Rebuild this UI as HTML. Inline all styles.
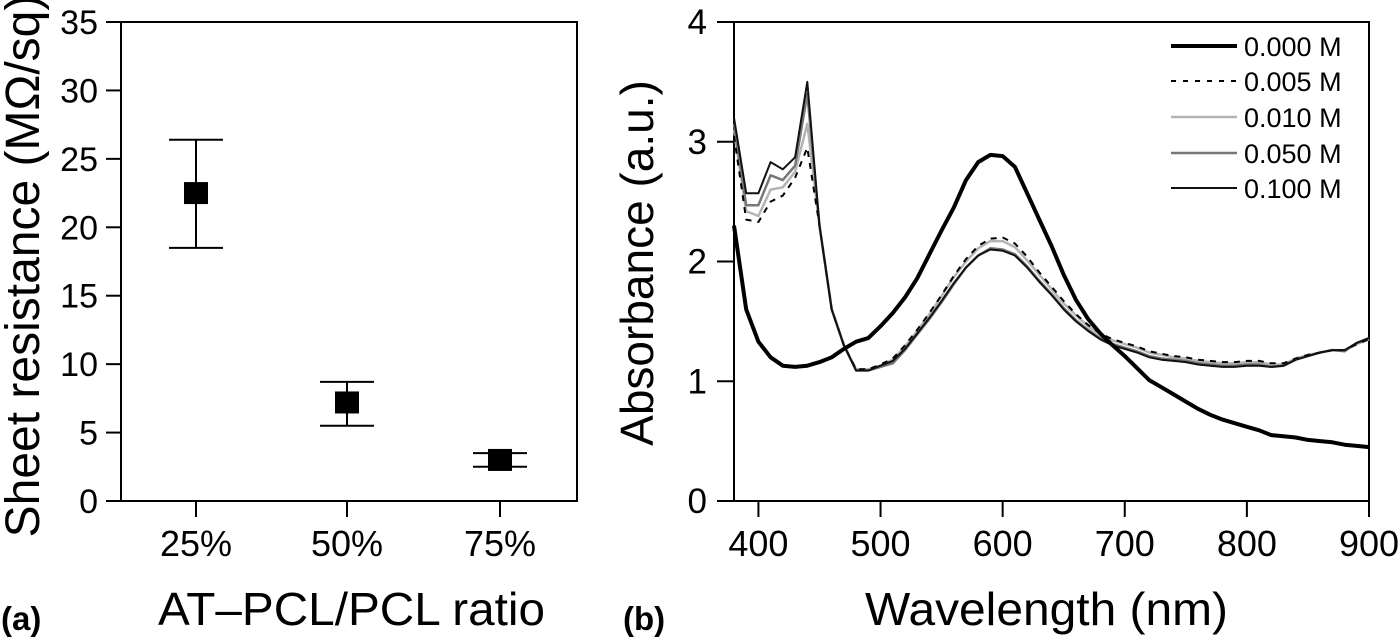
<!DOCTYPE html>
<html><head><meta charset="utf-8"><style>
html,body{margin:0;padding:0;background:#fff;}
svg{display:block;font-family:"Liberation Sans",Arial,sans-serif;}
</style></head><body>
<svg id="fig" width="1400" height="639" viewBox="0 0 1400 639">
<g id="pa"></g>
<g id="pb"></g>
</svg>
<script>
// Panel (a) data
const catLabels = ["25%","50%","75%"];
const resMean = [22.5, 7.2, 3.0];
const resLow = [18.5, 5.5, 2.5];
const resHigh = [26.4, 8.7, 3.5];
const aTicks = [0,5,10,15,20,25,30,35];

// Panel (b) data
const wl = [380,390,400,410,420,430,440,450,460,470,480,490,500,510,520,530,540,550,560,570,580,590,600,610,620,630,640,650,660,670,680,690,700,710,720,730,740,750,760,770,780,790,800,810,820,830,840,850,860,870,880,890,900];
const s000 = [2.3,1.6,1.33,1.2,1.13,1.12,1.13,1.16,1.2,1.27,1.33,1.36,1.46,1.57,1.7,1.86,2.06,2.26,2.45,2.68,2.83,2.89,2.88,2.79,2.57,2.35,2.13,1.89,1.68,1.52,1.40,1.30,1.21,1.11,1.01,0.95,0.89,0.83,0.77,0.72,0.68,0.65,0.62,0.59,0.55,0.54,0.53,0.51,0.50,0.49,0.47,0.46,0.45];
const s005 = [3.05,2.35,2.33,2.5,2.55,2.7,2.95,2.3,1.6,1.3,1.1,1.1,1.14,1.19,1.3,1.43,1.57,1.72,1.88,2.02,2.13,2.19,2.2,2.15,2.04,1.91,1.79,1.67,1.56,1.47,1.40,1.35,1.32,1.29,1.25,1.23,1.21,1.2,1.18,1.17,1.16,1.16,1.17,1.17,1.15,1.15,1.19,1.22,1.24,1.26,1.26,1.31,1.35];
const s010 = [3.1,2.42,2.38,2.6,2.62,2.75,3.15,2.3,1.6,1.3,1.1,1.1,1.13,1.18,1.29,1.42,1.56,1.71,1.87,2.0,2.11,2.17,2.17,2.12,2.01,1.89,1.77,1.65,1.55,1.46,1.39,1.34,1.31,1.28,1.24,1.22,1.2,1.19,1.17,1.16,1.15,1.15,1.16,1.16,1.14,1.14,1.19,1.22,1.24,1.26,1.26,1.31,1.35];
const s050 = [3.15,2.47,2.47,2.72,2.68,2.8,3.4,2.3,1.6,1.3,1.09,1.09,1.12,1.15,1.26,1.39,1.52,1.66,1.81,1.95,2.05,2.11,2.1,2.06,1.96,1.84,1.73,1.61,1.51,1.43,1.36,1.31,1.28,1.25,1.21,1.19,1.18,1.17,1.15,1.14,1.13,1.13,1.14,1.14,1.12,1.13,1.18,1.21,1.24,1.26,1.25,1.32,1.36];
const s100 = [3.2,2.57,2.57,2.83,2.77,2.87,3.5,2.3,1.6,1.3,1.09,1.09,1.13,1.17,1.27,1.4,1.53,1.67,1.82,1.95,2.05,2.1,2.09,2.05,1.95,1.83,1.72,1.6,1.5,1.42,1.35,1.30,1.27,1.24,1.2,1.18,1.17,1.16,1.14,1.13,1.12,1.12,1.13,1.13,1.12,1.13,1.18,1.21,1.24,1.26,1.26,1.32,1.36];
const seriesNames = ["0.000 M","0.005 M","0.010 M","0.050 M","0.100 M"];
const bTicksX = [400,500,600,700,800,900];
const bTicksY = [0,1,2,3,4];

const NS="http://www.w3.org/2000/svg";
function mk(parent,tag,attrs){const e=document.createElementNS(NS,tag);for(const k in attrs)e.setAttribute(k,attrs[k]);parent.appendChild(e);return e;}

// ---- Panel A
const pa=document.getElementById('pa');
const aL=121,aR=577,aT=22,aB=501;
const ay=v=>aB-(v/35)*(aB-aT);
const ax=i=>[196,347,500][i];
let e=mk(pa,'rect',{x:aL,y:aT,width:aR-aL,height:aB-aT,fill:'none',stroke:'#000','stroke-width':2});


e=mk(pa,'line',{x1:106,y1:aB,x2:aR,y2:aB,stroke:'#000','stroke-width':2});


aTicks.forEach(t=>{
 const l=mk(pa,'line',{x1:106,x2:aL,y1:ay(t),y2:ay(t),stroke:'#000','stroke-width':2});
 
 
 const tx=mk(pa,'text',{x:98,y:ay(t)+12,'text-anchor':'end','font-size':34});
 tx.textContent=t;
 
 
});
catLabels.forEach((c,i)=>{
 const l=mk(pa,'line',{x1:ax(i),x2:ax(i),y1:aB,y2:517,stroke:'#000','stroke-width':2});
 
 
 const tx=mk(pa,'text',{x:ax(i),y:556,'text-anchor':'middle','font-size':36});
 tx.textContent=c;
 
 
 const g=mk(pa,'g',{});
 
 
 mk(g,'line',{x1:ax(i),x2:ax(i),y1:ay(resLow[i]),y2:ay(resHigh[i]),stroke:'#000','stroke-width':2});
 mk(g,'line',{x1:ax(i)-27,x2:ax(i)+27,y1:ay(resLow[i]),y2:ay(resLow[i]),stroke:'#000','stroke-width':2});
 mk(g,'line',{x1:ax(i)-27,x2:ax(i)+27,y1:ay(resHigh[i]),y2:ay(resHigh[i]),stroke:'#000','stroke-width':2});
 mk(g,'rect',{x:ax(i)-12,y:ay(resMean[i])-11,width:24,height:22,fill:'#000'});
});
e=mk(pa,'text',{x:0,y:0,transform:'translate(39,266) rotate(-90)','text-anchor':'middle','font-size':48});
e.textContent='Sheet resistance (MΩ/sq)';


e=mk(pa,'text',{x:158,y:625,'font-size':46,textLength:387,lengthAdjust:'spacingAndGlyphs'});
e.textContent='AT–PCL/PCL ratio';


e=mk(pa,'text',{x:1,y:630,'font-size':33,'font-weight':'bold'});
e.textContent='(a)';



// ---- Panel B
const pb=document.getElementById('pb');
const bL=734,bR=1369,bT=22,bB=501;
const bx=w=>bL+(w-380)/(900-380)*(bR-bL);
const by=v=>bB-(v/4)*(bB-bT);
e=mk(pb,'rect',{x:bL,y:bT,width:bR-bL,height:bB-bT,fill:'none',stroke:'#000','stroke-width':2});


e=mk(pb,'line',{x1:717,y1:bB,x2:bR,y2:bB,stroke:'#000','stroke-width':2});


bTicksY.forEach(t=>{
 const l=mk(pb,'line',{x1:717,x2:bL,y1:by(t),y2:by(t),stroke:'#000','stroke-width':2});
 
 
 const tx=mk(pb,'text',{x:707,y:by(t)+12,'text-anchor':'end','font-size':35});
 tx.textContent=t;
 
 
});
bTicksX.forEach(t=>{
 const l=mk(pb,'line',{x1:bx(t),x2:bx(t),y1:bB,y2:517,stroke:'#000','stroke-width':2});
 
 
 const tx=mk(pb,'text',{x:bx(t),y:556,'text-anchor':'middle','font-size':36});
 tx.textContent=t;
 
 
});
const sData=[s000,s005,s010,s050,s100];
const sStyle=[{c:'#000',w:4,d:''},{c:'#000',w:2,d:'6,6'},{c:'#b4b4b4',w:2.5,d:''},{c:'#777',w:2.5,d:''},{c:'#111',w:2,d:''}];
const drawOrder=[2,3,1,4,0];
drawOrder.forEach(k=>{
 const pts=wl.map((w,i)=>bx(w).toFixed(1)+','+by(sData[k][i]).toFixed(1)).join(' ');
 const p=mk(pb,'polyline',{points:pts,fill:'none',stroke:sStyle[k].c,'stroke-width':sStyle[k].w,'stroke-linejoin':'round'});
 if(sStyle[k].d)p.setAttribute('stroke-dasharray',sStyle[k].d);
 
 
});
const legY=[46,81,117,153,188];
seriesNames.forEach((n,k)=>{
 const g=mk(pb,'g',{});
 
 
 const l=mk(g,'line',{x1:1171,x2:1237,y1:legY[k],y2:legY[k],stroke:sStyle[k].c,'stroke-width':sStyle[k].w});
 if(sStyle[k].d)l.setAttribute('stroke-dasharray','5,7');
 const t=mk(g,'text',{x:1244,y:legY[k]+10,'font-size':27});
 t.textContent=n;
});
e=mk(pb,'text',{x:0,y:0,transform:'translate(653,263) rotate(-90)','text-anchor':'middle','font-size':46});
e.textContent='Absorbance (a.u.)';


e=mk(pb,'text',{x:865,y:625,'font-size':46,textLength:363,lengthAdjust:'spacingAndGlyphs'});
e.textContent='Wavelength (nm)';


e=mk(pb,'text',{x:623,y:630,'font-size':33,'font-weight':'bold'});
e.textContent='(b)';


</script>
</body></html>
